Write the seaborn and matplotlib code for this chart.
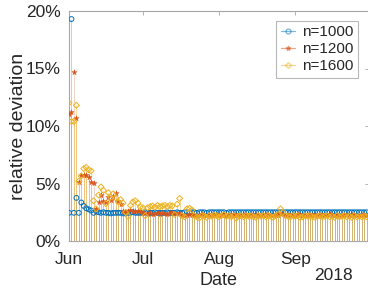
import pandas as pd
import numpy as np
import matplotlib
matplotlib.use("Agg")
import matplotlib.pyplot as plt
import matplotlib.dates as mdates
from matplotlib.lines import Line2D
from matplotlib.ticker import PercentFormatter
import seaborn as sns

sns.set_theme(style="white")
plt.rcParams['font.family'] = ['Liberation Sans', 'DejaVu Sans']

# daily values, 1 Jun 2018 .. 30 Sep 2018, relative deviation in percent
dates = pd.date_range("2018-06-01", "2018-09-30", freq="D")

n1000 = [2.45, 19.3, 2.45, 3.75, 2.45, 3.35, 3.05, 2.85, 2.75, 2.65,
         2.45, 2.6, 2.5, 2.45, 2.5, 2.45, 2.45, 2.4, 2.45, 2.45,
         2.45, 2.45, 2.4, 2.45, 2.45, 2.45, 2.5, 2.45, 2.45, 2.45,
         2.45, 2.5, 2.45, 2.45, 2.45, 2.5, 2.45, 2.45, 2.45, 2.45,
         2.5, 2.45, 2.45, 2.45, 2.5, 2.45, 2.45, 2.5, 2.5, 2.45,
         2.5, 2.5, 2.45, 2.5, 2.5, 2.5, 2.45, 2.5, 2.5, 2.5,
         2.5, 2.5, 2.5, 2.5, 2.45, 2.5, 2.5, 2.5, 2.5, 2.5,
         2.5, 2.5, 2.5, 2.5, 2.5, 2.5, 2.5, 2.5, 2.5, 2.5,
         2.5, 2.5, 2.5, 2.5, 2.5, 2.5, 2.5, 2.5, 2.5, 2.5,
         2.5, 2.5, 2.5, 2.5, 2.5, 2.5, 2.5, 2.5, 2.5, 2.5,
         2.5, 2.5, 2.5, 2.5, 2.5, 2.5, 2.5, 2.5, 2.5, 2.5,
         2.5, 2.5, 2.5, 2.5, 2.5, 2.5, 2.5, 2.5, 2.5, 2.5,
         2.5, 2.5]

n1200 = [11.05, 11.2, 14.7, 10.7, 5.1, 5.7, 5.7, 5.75, 5.6, 5.1,
         5.05, 2.8, 3.4, 4.0, 3.5, 3.4, 3.8, 3.6, 3.9, 4.2,
         3.5, 3.2, 2.6, 2.55, 2.6, 2.7, 2.65, 2.6, 2.6, 2.55,
         2.5, 2.4, 2.35, 2.4, 2.35, 2.4, 2.4, 2.35, 2.4, 2.4,
         2.35, 2.4, 2.4, 2.45, 2.4, 2.35, 2.3, 2.25, 2.3, 2.35,
         2.3, 2.3, 2.25, 2.3, 2.35, 2.3, 2.3, 2.25, 2.3, 2.3,
         2.35, 2.3, 2.3, 2.25, 2.3, 2.3, 2.35, 2.3, 2.25, 2.3,
         2.3, 2.3, 2.25, 2.3, 2.35, 2.3, 2.3, 2.25, 2.3, 2.3,
         2.3, 2.35, 2.3, 2.3, 2.25, 2.3, 2.4, 2.35, 2.3, 2.3,
         2.25, 2.3, 2.3, 2.35, 2.3, 2.3, 2.25, 2.3, 2.3, 2.3,
         2.35, 2.3, 2.25, 2.3, 2.3, 2.3, 2.35, 2.3, 2.3, 2.25,
         2.3, 2.3, 2.3, 2.35, 2.3, 2.3, 2.25, 2.3, 2.3, 2.3,
         2.3, 2.3]

n1600 = [12.0, 10.4, 10.4, 11.8, 5.2, 5.65, 6.3, 6.4, 6.2, 6.1,
         3.5, 2.8, 4.0, 4.7, 4.4, 3.25, 4.2, 3.8, 4.1, 3.75,
         3.4, 3.6, 3.3, 2.5, 2.15, 3.1, 3.4, 3.5, 3.3, 2.95,
         2.9, 2.2, 2.9, 3.0, 3.05, 2.95, 3.1, 3.0, 3.05, 3.1,
         3.0, 3.1, 3.05, 2.3, 3.2, 3.7, 2.2, 2.1, 2.8, 2.85,
         2.7, 2.2, 2.1, 2.0, 2.2, 2.15, 2.05, 2.2, 2.15, 2.25,
         2.2, 2.1, 2.2, 2.3, 2.15, 2.2, 2.1, 2.2, 2.0, 2.15,
         2.2, 2.1, 2.2, 2.15, 2.2, 2.1, 2.05, 2.2, 2.15, 2.2,
         2.1, 2.2, 2.15, 2.05, 2.2, 2.3, 2.8, 2.5, 2.2, 2.15,
         2.1, 2.2, 2.15, 2.2, 2.05, 2.1, 2.2, 2.15, 2.2, 2.1,
         2.05, 2.15, 2.2, 2.1, 2.15, 2.2, 2.1, 2.15, 2.05, 2.2,
         2.1, 2.15, 2.2, 2.1, 2.15, 2.05, 2.2, 2.1, 2.15, 2.1,
         2.15, 2.1]

series = [
    ("n=1000", n1000, '#0072BD', 'o'),
    ("n=1200", n1200, '#D95319', '*'),
    ("n=1600", n1600, '#EDB120', 'D'),
]
stem_alpha = {'o': 0.3, '*': 0.25, 'D': 0.45}

fig = plt.figure(figsize=(3.68, 2.88), dpi=100)
ax = fig.add_axes([69 / 368, 47 / 288, 300 / 368, 230 / 288])

# stems first, markers above
for name, vals, color, mk in series:
    y = np.array(vals) / 100.0
    ax.vlines(dates, 0, y, color=color, alpha=stem_alpha[mk],
              linewidth=0.7, zorder=1 if mk != 'D' else 2)

handles = []
for name, vals, color, mk in series:
    y = np.array(vals) / 100.0
    if mk == '*':
        sns.scatterplot(x=dates, y=y, marker=mk, color=color, s=16,
                        linewidth=0.3, edgecolor=color, ax=ax, zorder=3)
    else:
        sns.scatterplot(x=dates, y=y, marker=mk, facecolors='none',
                        edgecolor=color, s=12 if mk == 'o' else 9,
                        linewidth=0.7, ax=ax, zorder=3)
    handles.append(Line2D([0], [0], color=color, alpha=0.5, lw=0.9,
                          marker=mk, markersize=3.5 if mk != 'D' else 3,
                          markerfacecolor='none' if mk != '*' else color,
                          markeredgecolor=color, label=name))

ax.set_xlim(pd.Timestamp("2018-06-01"), pd.Timestamp("2018-10-01"))
ax.set_ylim(0, 0.2)
ax.set_yticks([0, 0.05, 0.10, 0.15, 0.20])
ax.yaxis.set_major_formatter(PercentFormatter(1.0, decimals=0))
ax.xaxis.set_major_locator(mdates.MonthLocator(bymonth=[6, 7, 8, 9]))
ax.xaxis.set_major_formatter(mdates.DateFormatter('%b'))

for sp in ax.spines.values():
    sp.set_color('#a6a6a6')
    sp.set_linewidth(0.8)
ax.tick_params(direction='in', length=3, width=0.6, color='#a6a6a6',
               labelsize=12.5, labelcolor='#262626', top=True, right=True)
ax.tick_params(axis='y', pad=6)
ax.tick_params(axis='x', pad=8)
ax.set_xlabel('Date', fontsize=13, color='#262626')
ax.set_ylabel('relative deviation', fontsize=14, color='#262626')
ax.xaxis.set_label_coords(0.5, -0.135)
ax.yaxis.set_label_coords(-0.14, 0.5)
fig.text(333 / 368, 1 - 276 / 288, '2018', fontsize=12.5, color='#262626',
         ha='center', va='center')

leg = ax.legend(handles=handles, loc='upper right', fontsize=11,
                frameon=True, fancybox=False, handlelength=0.9,
                handletextpad=0.5, borderpad=0.3, labelspacing=0.2,
                borderaxespad=0.4, bbox_to_anchor=(0.985, 0.985))
leg.get_frame().set_edgecolor('#a6a6a6')
leg.get_frame().set_linewidth(0.8)

fig.savefig('out.png', dpi=100)
